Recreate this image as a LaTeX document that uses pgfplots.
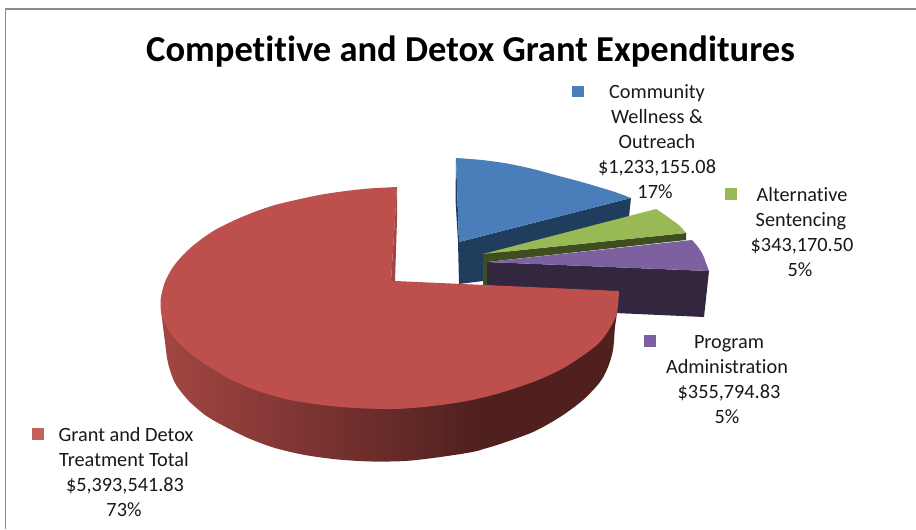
\documentclass[border=0pt]{standalone}
\usepackage{pgfplots}
\pgfplotsset{compat=1.18}
\usepackage{fontspec}
\setmainfont{Carlito}[Ligatures=NoCommon]
\definecolor{pieblue}{HTML}{4A7EBB}
\definecolor{pieblued}{HTML}{213D5E}
\definecolor{piegreen}{HTML}{98B954}
\definecolor{piegreend}{HTML}{3F4E20}
\definecolor{piepurple}{HTML}{7D60A0}
\definecolor{piepurpled}{HTML}{332740}
\definecolor{piered}{HTML}{BD4F4C}
\definecolor{piewalla}{HTML}{A34643}
\definecolor{piewallb}{HTML}{4F201E}
\definecolor{pieframe}{HTML}{8A8A8A}
\newcommand{\lbl}[2]{\node[anchor=base,inner sep=0pt,font=\fontsize{15.2}{18}\selectfont,text=black!90] at (axis cs:#1) {#2};}
\begin{document}
\begin{tikzpicture}
\begin{axis}[
  scale only axis, width=687pt, height=396.75pt,
  xmin=0, xmax=916, ymin=0, ymax=529, y dir=reverse,
  hide axis, clip=true, no markers,
  every axis plot/.append style={draw=none, line join=round}
]
% page and frame
\addplot[fill=white] coordinates {(0,0) (916,0) (916,529) (0,529)} --cycle;
\addplot[draw=pieframe, line width=1pt] coordinates {(5.5,529) (5.5,9) (916,9)};

% community wellness
\addplot[fill=pieblued] coordinates {(456,158) (455.5,200) (458,242) (459,284) (483,281) (483,258) (629,217) (631,198) (459,242)} --cycle;
\addplot[smooth, fill=pieblue] coordinates {(456,158) (482,160) (507,163.5) (533,169) (557,175.5) (578,181) (597,186.5) (615,192) (631,198)} -- (axis cs:459,242) --cycle;
% alternative sentencing
\addplot[fill=piegreend] coordinates {(483,254) (686,233) (686,240) (487,262) (487,285) (483,285)} --cycle;
\addplot[smooth, fill=piegreen] coordinates {(656,209) (665,215) (672,220) (680,226) (686,233)} -- (axis cs:483,254) --cycle;
% program administration
\addplot[fill=piepurpled] coordinates {(487,262) (709,271) (704,317) (615,313) (487,300)} --cycle;
\addplot[smooth, fill=piepurple] coordinates {(692,240) (698,247) (703,255) (706,263) (709,271)} -- (axis cs:487,262) --cycle;
% grant and detox wall, shaded part then the flat dark part
\addplot[smooth, left color=piewalla, right color=piewallb] coordinates {
  (161,300) (162,318) (165,342) (168,363) (175,383) (188,400) (205,415) (222,425) (248,438) (275,448) (305,455) (338,459.5) (372,461.5) (405,461) (433,458) (467,453) (481,450)}
  -- (axis cs:481,380) --cycle;
\addplot[smooth, fill=piewallb] coordinates {
  (480,450) (500,444) (533,432) (560,417) (583,400) (600,382) (608,367) (613,350) (615,327) (617,313) (618,300)}
  -- (axis cs:480,380) --cycle;
% top face
\addplot[smooth, fill=piered] coordinates {
  (397,187) (372,188.3) (348,190.7) (322,194.5) (298,199.5) (275,205) (255,211.7) (235,220) (215,230) (198,241.7) (185,253) (173,267) (165,282) (161,297) (160.7,308)
  (162.5,318) (171.7,335) (188,351.7) (205,364) (228,378) (255,390) (288,399.5) (322,405) (355,408) (388,409) (405,408.5) (433,406) (467,401)
  (500,393) (533,382) (560,370) (583,355.5) (600,342) (610,328) (617,313) (619,291)}
  -- (axis cs:395,281) -- (axis cs:391,281) --cycle;
\addplot[fill=piewalla] coordinates {(397,187) (397,220) (395,281) (391,281)} --cycle;

% legend keys
\addplot[fill=pieblue] coordinates {(572,86) (584,86) (584,97) (572,97)} --cycle;
\addplot[fill=piegreen] coordinates {(725,188) (737,188) (737,200) (725,200)} --cycle;
\addplot[fill=piepurple] coordinates {(644,335) (656,335) (656,347) (644,347)} --cycle;
\addplot[fill=piered!90!white] coordinates {(32,428) (44,428) (44,440) (32,440)} --cycle;

\node[anchor=base,inner sep=0pt,font=\fontsize{27.4}{30}\selectfont\bfseries] at (axis cs:470.5,61) {Competitive and Detox Grant Expenditures};

\lbl{657,98}{Community}
\lbl{657,123}{Wellness \&}
\lbl{657,148}{Outreach}
\lbl{657,173}{\$1,233,155.08}
\lbl{655,198}{17\%}

\lbl{802,201}{Alternative}
\lbl{801,226}{Sentencing}
\lbl{802,251}{\$343,170.50}
\lbl{800,276}{5\%}

\lbl{729,348}{Program}
\lbl{727,373}{Administration}
\lbl{729,398}{\$355,794.83}
\lbl{727,423}{5\%}

\lbl{126,441}{Grant and Detox}
\lbl{124,466}{Treatment Total}
\lbl{125,491}{\$5,393,541.83}
\lbl{124,516}{73\%}
\end{axis}
\end{tikzpicture}
\end{document}
